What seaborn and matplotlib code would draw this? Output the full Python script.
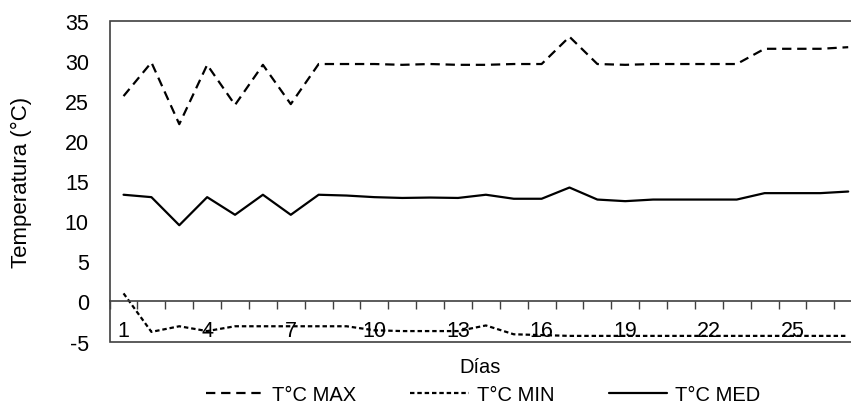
import numpy as np
import pandas as pd
import seaborn as sns
import matplotlib.pyplot as plt

# Daily temperatures
dias = list(range(1, 28))
t_max = [25.6, 29.8, 22.1, 29.5, 24.5, 29.5, 24.6, 29.6, 29.6, 29.6, 29.5, 29.6, 29.5, 29.5,
         29.6, 29.6, 33.0, 29.6, 29.5, 29.6, 29.6, 29.6, 29.6, 31.5, 31.5, 31.5, 31.7]
t_min = [1.0, -3.8, -3.1, -3.7, -3.1, -3.1, -3.1, -3.1, -3.1, -3.6, -3.7, -3.7, -3.7, -3.0,
         -4.1, -4.2, -4.3, -4.3, -4.3, -4.3, -4.3, -4.3, -4.3, -4.3, -4.3, -4.3, -4.3]
t_med = [13.3, 13.0, 9.5, 13.0, 10.8, 13.3, 10.8, 13.3, 13.2, 13.0, 12.9, 12.95, 12.9, 13.3,
         12.8, 12.8, 14.2, 12.7, 12.5, 12.7, 12.7, 12.7, 12.7, 13.5, 13.5, 13.5, 13.7]
series = ["T°C MAX", "T°C MIN", "T°C MED"]
x_labels = dias[::3]

df = pd.DataFrame({
    "Día": dias * 3,
    "Temperatura": t_max + t_min + t_med,
    "Serie": [s for s in series for _ in dias],
})

sns.set_theme(style="white")
plt.rcParams["font.family"] = ["Liberation Sans", "DejaVu Sans"]
plt.rcParams["axes.unicode_minus"] = False
plt.rcParams["text.color"] = "black"
plt.rcParams["axes.labelcolor"] = "black"
axis_col = "#404040"
fs = 14.5
fs_tick = 15.5

fig = plt.figure(figsize=(8.51, 4.06), dpi=100)
# axes runs past the right edge, like the cropped reference
ax = fig.add_axes([0.1288, 0.1564, 0.8843, 0.7901])

dash_map = {"T°C MAX": (4.2, 2.6), "T°C MIN": (2, 1.3), "T°C MED": ""}
sns.lineplot(data=df, x="Día", y="Temperatura", style="Serie", style_order=series,
             dashes=dash_map, color="black", linewidth=1.6, ax=ax)

ax.set_xlim(0.5, 27.5)
ax.set_ylim(-5, 35)
ax.set_yticks(range(-5, 36, 5))
ax.set_xticks(x_labels)
ax.set_xticklabels([str(d) for d in x_labels])
ax.set_xticks(np.arange(0.5, 28, 1), minor=True)

# plot-area frame + category axis crossing at zero
ax.patch.set_edgecolor(axis_col)
ax.patch.set_linewidth(1.2)
for s in ["top", "right", "left"]:
    ax.spines[s].set_visible(False)
ax.spines["bottom"].set_position(("data", 0))
ax.spines["bottom"].set_color(axis_col)
ax.spines["bottom"].set_linewidth(1.2)

ax.tick_params(axis="x", which="major", length=0, pad=13.5, labelsize=fs_tick,
               labelcolor="black")
ax.tick_params(axis="x", which="minor", bottom=True, length=6, width=1, direction="out",
               color=axis_col)
ax.tick_params(axis="y", length=0, pad=15, labelsize=fs_tick, labelcolor="black")

ax.set_xlabel("Días", fontsize=fs)
ax.set_ylabel("Temperatura (°C)", fontsize=16)
ax.xaxis.set_label_coords(0.492, -0.048)
ax.yaxis.set_label_coords(-0.103, 0.5)

sns.move_legend(ax, "center", bbox_to_anchor=(483 / 851, 10 / 406),
                bbox_transform=fig.transFigure, ncol=3, frameon=False, title=None,
                fontsize=fs, handlelength=2.9, handletextpad=0.4, columnspacing=2.7)

fig.savefig("out.png", dpi=100)
